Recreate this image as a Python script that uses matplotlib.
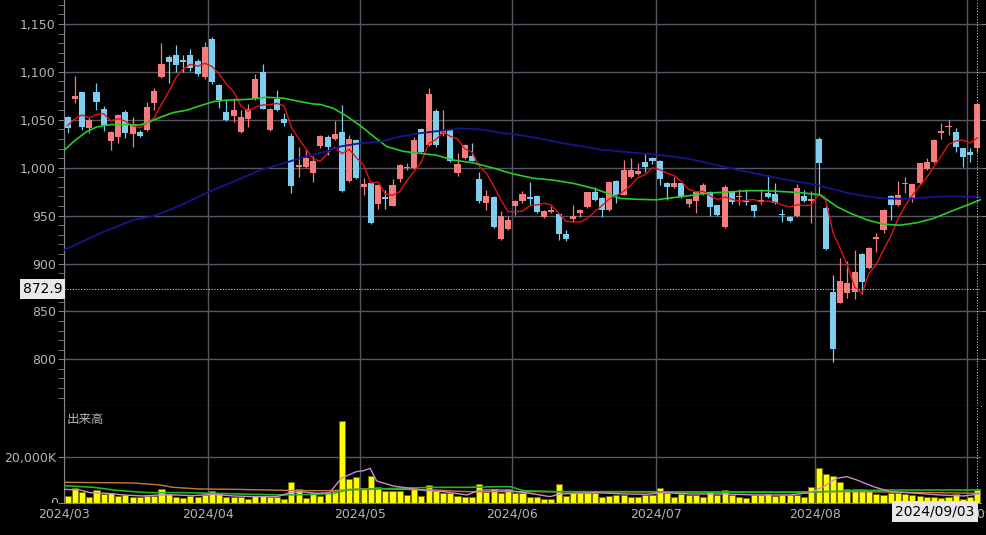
import numpy as np
import matplotlib.pyplot as plt
from matplotlib.ticker import MultipleLocator, FixedLocator
from matplotlib.transforms import Bbox

# ------------------------------------------------------------
# daily candles, 2024/03/01 .. 2024/09/03 (trading day index)
# ------------------------------------------------------------
opens = [1052.6, 1071.5, 1078.5, 1041.8, 1079.5, 1061.0, 1028.0, 1032.3, 1057.7, 1035.5,
         1037.3, 1039.4, 1067.9, 1094.2, 1115.0, 1117.6, 1112.4, 1117.6, 1111.4, 1094.4,
         1134.0, 1086.3, 1058.5, 1054.3, 1037.6, 1050.5, 1071.7, 1100.2, 1039.4, 1071.7,
         1051.0, 1033.1, 1000.4, 1001.0, 994.2, 1022.7, 1032.4, 1030.0, 1037.6, 986.5,
         1029.0, 979.5, 984.4, 962.1, 969.8, 960.4, 988.2, 999.4, 1000.0, 1040.0,
         1023.7, 1059.5, 1035.0, 1039.8, 994.8, 1009.8, 1012.5, 988.5, 963.5, 969.0,
         925.3, 935.5, 960.2, 965.6, 969.6, 970.5, 949.0, 954.0, 951.7, 930.7,
         946.1, 952.2, 958.6, 975.0, 968.0, 955.6, 986.2, 971.5, 990.4, 993.0,
         1006.3, 1009.8, 1007.0, 984.4, 980.2, 983.7, 962.1, 965.6, 972.8, 975.0,
         961.0, 938.5, 974.6, 969.2, 965.6, 961.0, 964.0, 974.0, 972.6, 951.7,
         948.9, 949.6, 970.5, 965.6, 1029.6, 957.6, 869.8, 859.1, 869.6, 870.6,
         910.4, 895.8, 925.9, 935.0, 970.5, 961.0, 983.0, 968.0, 984.4, 998.6,
         1006.3, 1036.6, 1042.8, 1037.6, 1020.2, 1016.7, 1020.9]
highs = [1054.0, 1095.7, 1079.0, 1051.5, 1088.7, 1064.4, 1038.5, 1055.7, 1060.0, 1052.6,
         1039.4, 1068.9, 1082.8, 1130.0, 1118.0, 1128.0, 1117.6, 1123.6, 1113.0, 1131.6,
         1136.8, 1087.4, 1071.0, 1072.4, 1060.2, 1066.5, 1097.8, 1108.2, 1062.7, 1081.0,
         1056.8, 1036.0, 1022.0, 1018.5, 1011.9, 1034.0, 1034.0, 1048.5, 1065.5, 1034.2,
         1030.0, 988.9, 985.5, 982.5, 976.7, 987.9, 1004.0, 1004.6, 1032.4, 1041.0,
         1082.9, 1061.0, 1060.0, 1040.5, 1015.5, 1024.5, 1025.4, 996.0, 976.5, 970.0,
         955.0, 949.6, 966.5, 976.0, 985.0, 971.5, 955.5, 960.0, 952.5, 935.0,
         961.0, 956.5, 975.0, 980.0, 969.0, 986.0, 987.0, 1008.0, 1009.8, 1005.3,
         1014.3, 1011.0, 1008.0, 985.0, 990.7, 984.5, 967.8, 975.5, 983.7, 975.5,
         961.5, 982.0, 976.0, 978.0, 978.0, 962.0, 978.0, 992.4, 984.0, 956.6,
         950.0, 983.5, 976.7, 976.0, 1032.4, 960.0, 888.5, 905.4, 902.5, 914.5,
         911.0, 917.5, 931.5, 956.5, 971.5, 986.5, 990.7, 983.5, 1005.0, 1010.5,
         1029.5, 1047.0, 1049.8, 1041.0, 1021.0, 1020.2, 1066.5]
lows = [1036.6, 1067.9, 1039.4, 1035.9, 1060.2, 1038.0, 1018.0, 1025.5, 1030.7, 1021.3,
        1031.7, 1038.7, 1060.2, 1093.3, 1088.4, 1100.2, 1099.5, 1100.9, 1095.7, 1092.5,
        1087.4, 1062.0, 1048.8, 1048.1, 1036.6, 1042.2, 1071.0, 1061.0, 1038.7, 1059.5,
        1043.5, 973.3, 990.6, 999.3, 985.4, 1020.6, 1013.3, 1028.5, 975.0, 985.5,
        988.0, 971.5, 941.0, 956.7, 956.6, 959.5, 985.5, 997.5, 999.0, 1015.0,
        1022.7, 1022.0, 1033.0, 1006.0, 991.4, 1009.0, 1006.5, 962.8, 956.0, 936.7,
        924.5, 934.5, 950.6, 963.0, 961.0, 953.0, 947.5, 952.5, 924.5, 924.0,
        943.7, 949.0, 957.5, 965.5, 948.9, 955.0, 962.8, 971.0, 989.5, 992.0,
        995.0, 1004.0, 982.0, 966.3, 978.5, 968.0, 959.3, 952.4, 972.0, 949.5,
        950.0, 936.7, 962.0, 961.0, 961.0, 948.2, 962.5, 968.5, 962.0, 943.7,
        943.5, 948.5, 964.0, 942.0, 972.0, 914.0, 797.0, 858.5, 863.7, 862.6,
        868.0, 894.0, 912.4, 932.0, 945.4, 960.0, 973.3, 964.5, 983.5, 998.0,
        1005.0, 1029.6, 1034.1, 1016.7, 1001.1, 1006.3, 1016.8]
closes = [1041.8, 1074.9, 1042.8, 1049.8, 1068.9, 1045.0, 1037.6, 1054.5, 1036.6, 1046.0,
          1033.3, 1063.7, 1080.2, 1107.9, 1110.7, 1106.8, 1110.5, 1103.8, 1097.8, 1126.3,
          1089.8, 1070.7, 1049.8, 1060.2, 1052.6, 1061.0, 1092.3, 1061.5, 1061.0, 1060.2,
          1046.4, 980.9, 1002.8, 1009.8, 1007.0, 1033.1, 1022.0, 1035.5, 976.0, 1029.6,
          988.9, 983.3, 942.0, 981.6, 967.0, 981.6, 1002.8, 1000.6, 1029.0, 1016.0,
          1077.3, 1023.5, 1039.5, 1007.0, 1004.2, 1023.7, 1007.4, 965.6, 970.8, 938.5,
          949.8, 945.8, 965.6, 973.0, 967.0, 954.0, 955.0, 955.8, 930.7, 925.3,
          949.8, 955.6, 974.2, 966.3, 955.6, 985.4, 971.5, 997.8, 997.6, 996.3,
          1000.8, 1007.2, 987.9, 979.5, 983.7, 969.1, 967.2, 975.0, 981.9, 959.3,
          950.6, 979.5, 964.5, 970.5, 964.4, 955.2, 966.3, 969.8, 963.2, 950.6,
          944.6, 978.5, 965.2, 967.0, 1004.6, 914.8, 810.4, 881.6, 879.3, 890.8,
          880.8, 916.3, 928.0, 955.9, 961.0, 971.5, 984.4, 983.0, 1004.6, 1006.3,
          1028.9, 1038.3, 1043.9, 1022.0, 1010.8, 1013.3, 1066.2]

# volume in thousands of shares
volume_k = [3290, 6440, 5010, 2860, 5720, 3860, 4580, 3290, 3580, 2860,
            2860, 3290, 3290, 6010, 3860, 2860, 2430, 3290, 2860, 3580,
            5290, 3860, 2860, 2860, 2860, 1860, 3290, 3290, 2860, 2860,
            1860, 9300, 6010, 2430, 4580, 3290, 4290, 5440, 35490, 10300,
            11160, 6440, 11730, 7150, 5440, 5440, 5440, 3580, 6010, 3290,
            7870, 5440, 4290, 4290, 3290, 2580, 2580, 8160, 5010, 6010,
            4580, 6010, 4580, 4290, 2860, 2860, 1860, 1860, 8300, 3290,
            4290, 4290, 4290, 4290, 2860, 3290, 3580, 3580, 2860, 2580,
            3580, 3580, 6440, 4290, 2860, 3860, 3580, 3580, 2580, 4870,
            3580, 5720, 3580, 2860, 2430, 3580, 3580, 3860, 3290, 3580,
            3580, 3580, 2860, 7150, 15310, 12450, 11730, 9010, 6010, 6010,
            6010, 5440, 4010, 3580, 4580, 4580, 4010, 3580, 3150, 2860,
            2580, 2430, 2860, 3860, 1860, 2580, 5720]

# 5-day average line (red)
ma5 = [1044.0, 1051.0, 1055.0, 1052.0, 1055.6, 1056.3, 1048.8, 1051.2, 1048.5, 1043.9,
       1041.6, 1046.8, 1052.0, 1066.2, 1079.2, 1093.9, 1103.2, 1107.9, 1105.9, 1109.0,
       1105.6, 1097.7, 1086.9, 1079.4, 1064.6, 1058.9, 1063.2, 1065.5, 1065.7, 1067.2,
       1064.3, 1042.0, 1030.3, 1020.0, 1009.4, 1006.7, 1014.9, 1021.5, 1014.7, 1019.2,
       1010.4, 1002.7, 984.0, 985.1, 972.6, 971.1, 975.0, 986.7, 996.2, 1006.0,
       1025.1, 1029.3, 1037.1, 1032.7, 1030.3, 1019.6, 1016.4, 1001.6, 994.3, 981.2,
       966.4, 954.1, 954.1, 954.5, 960.2, 961.1, 962.9, 961.0, 952.5, 944.2,
       943.3, 943.4, 947.1, 954.2, 960.3, 967.4, 970.6, 975.3, 981.6, 989.7,
       992.8, 999.9, 998.0, 994.3, 991.8, 985.5, 977.5, 974.9, 975.4, 970.5,
       966.8, 969.3, 967.2, 964.9, 965.9, 966.8, 964.2, 965.2, 963.8, 961.0,
       958.9, 961.3, 960.4, 961.2, 972.0, 966.0, 932.4, 915.7, 898.1, 875.4,
       868.6, 889.8, 899.0, 914.4, 928.4, 946.5, 960.2, 971.2, 980.9, 990.0,
       1001.4, 1012.2, 1024.4, 1027.9, 1028.8, 1025.7, 1031.2]

# 25-day (green) and 75-day (navy) lines, read at these day positions
ma25_x = [-0.5, 0.8, 2.6, 4, 5.9, 8.2, 10, 11.4, 12.8, 14.6, 16.5, 18.3, 20.2, 22, 23.9,
          25.3, 27.6, 29.9, 32.2, 34, 35, 36.8, 38.6, 40.5, 42.4, 44.2, 46.5, 48.8, 51.1,
          53.4, 56.2, 59, 61.7, 64.5, 67.3, 70.1, 72.8, 74.7, 76.5, 78.8, 81.6, 83, 85.3,
          87.6, 89.9, 92.2, 94.5, 96.8, 99.1, 101.4, 103.3, 104.3, 105.2, 106.5, 108.4,
          110.7, 113, 115.3, 117.6, 119.9, 122.2, 124.6, 126.4]
ma25_y = [1018, 1027, 1037.5, 1042.5, 1045, 1045, 1044.5, 1048, 1052.5, 1057.5, 1060,
          1064.5, 1069, 1070.5, 1071, 1071.5, 1073.5, 1072.5, 1069, 1066.5, 1066, 1062,
          1054, 1044, 1032.5, 1022, 1017, 1015, 1013, 1008, 1005, 999.5, 993.5, 989, 987,
          983.5, 978.5, 973.5, 968, 967, 966.5, 968, 970, 972.5, 974, 975, 976, 976, 975,
          974, 972.5, 971.5, 966.5, 959.5, 952.5, 945.5, 941, 940, 942.5, 947, 954, 961,
          966.5]
ma75_x = [-0.5, 4.5, 9.1, 11.9, 15.1, 17.4, 19.3, 23, 26.7, 29.9, 32.2, 34.5, 36.3, 37.7,
          40.5, 43.3, 46.1, 48.8, 51.6, 54.4, 57.1, 59.9, 62.7, 65.4, 68.2, 71, 73.7, 76.5,
          79.3, 81.6, 83.4, 86.2, 88.9, 91.7, 94.5, 96.8, 99.1, 101.4, 103.7, 106, 108.4,
          110.7, 113, 115.3, 117.6, 119.9, 122.2, 124.6, 126.4]
ma75_y = [914, 931.5, 945.5, 949.5, 959, 967, 974, 985.5, 997.5, 1004.5, 1010, 1014.5,
          1018, 1022, 1025.5, 1027, 1032.5, 1036, 1038.5, 1041, 1040, 1036.5, 1034,
          1030.5, 1026, 1022.5, 1019, 1017, 1015, 1013.5, 1012, 1009, 1004.5, 999.5, 995,
          991.5, 988, 985, 982, 977.5, 973, 970, 968, 967.5, 968, 969.5, 970, 969.8, 969.3]

# volume average lines (5 / 25 / 75 day)
vma5_x = [-0.5, 1.7, 3.1, 5.4, 7.7, 10.5, 12.8, 15.1, 17.4, 20.2, 23, 25.7, 29, 30.8, 32.2,
          34.5, 36.3, 37.9, 38.9, 40, 41, 41.9, 42.8, 45.1, 47.4, 49.7, 52.1, 55.3, 57.1,
          59.9, 61.3, 64, 66.8, 68.2, 70.5, 73.3, 77, 80.2, 82.5, 86.2, 90.8, 95.4, 100,
          102.8, 104.7, 106.5, 107.9, 109.3, 111.6, 113.9, 117.6, 120.8, 124.1, 126.4]
vma5_y = [6010, 5720, 4580, 4290, 3580, 3150, 3580, 3580, 3290, 3860, 3150, 2860, 2860,
          4580, 5010, 4290, 4580, 10730, 12160, 13600, 14020, 15030, 9590, 7440, 6440,
          5440, 5010, 3580, 5720, 5720, 5440, 4290, 2860, 4010, 4290, 4580, 4010, 3860,
          4580, 4010, 4010, 3580, 3580, 4580, 7150, 10730, 11450, 10020, 7150, 5010, 4290,
          3580, 3150, 4010]
vma25_x = [-0.5, 3.6, 6.3, 9.1, 11.4, 16, 20.6, 25.3, 29.9, 34.5, 36.8, 38.7, 41.4, 46,
           50.6, 55.3, 59.9, 61.3, 63.1, 67.7, 77, 86.2, 95.4, 102.8, 104.7, 109.3, 113.9,
           118.5, 126.4]
vma25_y = [7580, 6870, 5720, 5010, 4580, 4580, 4290, 3860, 3580, 3860, 4290, 5720, 6010,
           6440, 6870, 6870, 7150, 7150, 5440, 5010, 5010, 4870, 4720, 4720, 5010, 5440,
           5720, 5720, 5720]
vma75_x = [-0.5, 4.5, 9.1, 12.8, 14.6, 18.3, 23, 27.6, 32.2, 36.8, 39.1, 41.4, 46, 50.6,
           55.3, 59.9, 63.1, 72.3, 81.6, 90.8, 100, 104.7, 113.9, 126.4]
vma75_y = [9020, 8870, 8730, 7870, 6870, 6150, 6010, 5720, 5440, 5440, 6010, 6300, 6010,
           5720, 5010, 5010, 5010, 4870, 4870, 4870, 4870, 5010, 4870, 4290]

month_labels = ["2024/03", "2024/04", "2024/05", "2024/06", "2024/07", "2024/08", "2024/09"]
month_first_idx = [0, 20, 41, 62, 82, 104, 125]

cursor_idx = 126
cursor_price = 872.9
cursor_date = "2024/09/03"

# ------------------------------------------------------------
# styling
# ------------------------------------------------------------
UP = "#f47c7c"
DOWN = "#7fcdef"
GRID = "#565664"
TXT = "#b4b4b4"
CURSOR = "#c8c8c8"

W, H = 987, 535
fig = plt.figure(figsize=(W / 100, H / 100), dpi=100, facecolor="black")

x0, x1 = 64, 981
vol_bottom = 503.3
ax = fig.add_axes([x0 / W, 1 - 406 / H, (x1 - x0) / W, 406 / H])
axv = fig.add_axes([x0 / W, 1 - vol_bottom / H, (x1 - x0) / W, (vol_bottom - 406) / H], sharex=ax)

for a in (ax, axv):
    a.set_facecolor("black")
    a.set_axisbelow(True)
    for s in ("top", "right"):
        a.spines[s].set_visible(False)
    a.spines["left"].set_color("#80808c")

n = len(closes)
x = np.arange(n)
o = np.array(opens)
c = np.array(closes)
hi = np.array(highs)
lo = np.array(lows)
up = c >= o
cols = np.where(up, UP, DOWN)

grid_x = [i - 0.5 for i in month_first_idx]

# ------------------------------------------------------------
# price panel
# ------------------------------------------------------------
ax.vlines(x, lo, hi, colors=cols, lw=0.9, zorder=2)
body = np.maximum(np.abs(c - o), 0.9)
ax.bar(x, body, bottom=np.minimum(o, c), width=0.84, color=cols, linewidth=0, zorder=3)

ax.plot(x, ma5, color="#e01414", lw=1.0, zorder=4)
ax.plot(ma25_x, ma25_y, color="#28cc28", lw=1.2, zorder=4)
ax.plot(ma75_x, ma75_y, color="#16168c", lw=1.3, zorder=4)

ax.set_xlim(-0.5, 126.5)
ax.set_ylim(751.3, 1175)
ax.yaxis.set_major_locator(MultipleLocator(50))
ax.yaxis.set_minor_locator(MultipleLocator(10))
ax.yaxis.set_major_formatter(lambda v, p: f"{v:,.0f}")
ax.xaxis.set_major_locator(FixedLocator(grid_x))
ax.grid(True, which="major", color=GRID, lw=1.0)
ax.tick_params(axis="x", length=0, labelbottom=False)
ax.tick_params(axis="y", which="both", colors="#80808c", labelcolor=TXT,
               labelsize=9, length=4, pad=2, right=True)
ax.tick_params(axis="y", which="minor", right=False)
ax.spines["bottom"].set_color("#a0a0a8")

ax.axhline(cursor_price, color=CURSOR, lw=0.8, ls=(0, (1, 1.5)), zorder=5)
ax.axvline(cursor_idx, color=CURSOR, lw=0.8, ls=(0, (1, 1.5)), zorder=5)

# ------------------------------------------------------------
# volume panel
# ------------------------------------------------------------
axv.bar(x, volume_k, width=0.84, color="#ffff00", edgecolor="#6e6e00", linewidth=0.6, zorder=2)
axv.plot(vma75_x, vma75_y, color="#c87a3c", lw=1.0, zorder=3)
axv.plot(vma25_x, vma25_y, color="#22b422", lw=1.2, zorder=3)
axv.plot(vma5_x, vma5_y, color="#c88cc8", lw=1.0, zorder=3)

axv.set_ylim(0, 41800)
axv.set_yticks([0, 20000], ["", "20,000K"])
axv.set_xticks(grid_x, month_labels)
axv.grid(True, color=GRID, lw=1.0)
axv.tick_params(axis="x", length=0, colors=TXT, labelsize=9, pad=3)
axv.tick_params(axis="y", length=4, colors="#80808c", labelcolor=TXT, labelsize=9, pad=2)
axv.spines["bottom"].set_color("#80808c")
axv.axvline(cursor_idx, color=CURSOR, lw=0.8, ls=(0, (1, 1.5)), zorder=5)

# the "0" label sits on the panel's bottom edge and is cut there
zero = fig.text(58 / W, 1 - vol_bottom / H, "0", ha="right", va="center",
                fontsize=9, color=TXT)
zero.set_clip_box(Bbox.from_extents(0, H - vol_bottom, x0, H))
zero.set_clip_on(True)

axv.text(0.003, 0.86, "出来高", transform=axv.transAxes, color=TXT, fontsize=9,
         family=["Noto Sans CJK JP", "DejaVu Sans"], va="center", ha="left")

# cursor labels
box = dict(boxstyle="square,pad=0.22", facecolor="#e8e8e8", edgecolor="none")
fig.text(62.3 / W, 1 - 288.6 / H, f"{cursor_price:.1f}", ha="right", va="center",
         fontsize=10, color="black", bbox=box)
fig.text(974.5 / W, 1 - 511.5 / H, cursor_date, ha="right", va="center",
         fontsize=10, color="black", bbox=box)

fig.savefig("out.png", dpi=100, facecolor="black")
